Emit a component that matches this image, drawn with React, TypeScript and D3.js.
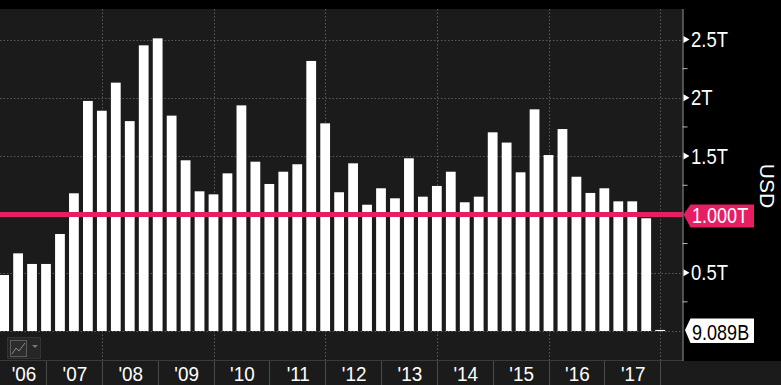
import React from "react";
import * as d3 from "d3";

const years = [2006, 2007, 2008, 2009, 2010, 2011, 2012, 2013, 2014, 2015, 2016, 2017];
const yearLabels = ["'06", "'07", "'08", "'09", "'10", "'11", "'12", "'13", "'14", "'15", "'16", "'17"];
// quarterly values in trillions USD, Q1 2006 .. Q4 2017
const values = [
  0.48, 0.666, 0.575, 0.575,
  0.832, 1.181, 1.973, 1.889,
  2.13, 1.8, 2.45, 2.51,
  1.847, 1.464, 1.198, 1.172,
  1.352, 1.935, 1.452, 1.261,
  1.366, 1.43, 2.316, 1.781,
  1.19, 1.438, 1.083, 1.224,
  1.138, 1.481, 1.152, 1.244,
  1.366, 1.104, 1.152, 1.704,
  1.616, 1.361, 1.901, 1.509,
  1.732, 1.323, 1.184, 1.224,
  1.112, 1.112, 0.967, 0.009089,
];
const majorTicks = [0.5, 1.5, 2, 2.5];
const majorTickLabels = ["0.5T", "1.5T", "2T", "2.5T"];
const gridValues = [0, 0.5, 1, 1.5, 2, 2.5];
const minorTicks = [0.25, 0.75, 1.25, 1.75, 2.25];
const gridYears = [2008, 2010, 2012, 2014, 2016, 2018];
const refValue = 1.0;
const refLabel = "1.000T";
const lastLabel = "9.089B";
const axisTitle = "USD";

const W = 781;
const H = 385;
const plotTop = 9;
const plotBottom = 360;
const plotRight = 682.5;
const FONT = "'Liberation Sans', Arial, sans-serif";
const PINK = "#e61e64";

function NText(props: {
  x: number;
  y: number;
  size: number;
  fill: string;
  anchor?: string;
  sx?: number;
  children: React.ReactNode;
}) {
  return (
    <text
      transform={`translate(${props.x},${props.y}) scale(${props.sx ?? 0.82},1)`}
      fill={props.fill}
      fontFamily={FONT}
      fontSize={props.size}
      textAnchor={props.anchor || "start"}
    >
      {props.children}
    </text>
  );
}

export default function App() {
  const x = d3.scaleLinear().domain([2006.176, 2018.4]).range([0, plotRight]);
  const y = d3.scaleLinear().domain([0, 2.5]).range([331, 39.5]);
  const qPx = x(2006.5) - x(2006.25);
  const bw = qPx * 0.7;

  const bars = values.map((v, i) => ({ t: years[0] + (i + 1) * 0.25, v }));
  const lastV = values[values.length - 1];
  const yr = y(refValue);
  const y0 = y(0);

  return (
    <svg width={W} height={H} style={{ display: "block", position: "absolute", left: 0, top: 0 }}>
      <rect x={0} y={0} width={W} height={H} fill="#000" />
      {/* plot background */}
      <rect x={0} y={plotTop} width={plotRight} height={plotBottom - plotTop} fill="#1b1b1b" />
      {/* x band */}
      <rect x={0} y={plotBottom + 1} width={W} height={H - plotBottom - 1} fill="#1b1b1b" />
      <line x1={0} x2={plotRight} y1={plotBottom + 0.5} y2={plotBottom + 0.5} stroke="#3a3a3a" />

      {/* gridlines */}
      {gridValues.map((g) => (
        <line key={"h" + g} x1={0} x2={plotRight} y1={Math.round(y(g)) + 0.5} y2={Math.round(y(g)) + 0.5}
          stroke="#5a5a5a" strokeDasharray="1.5,2" />
      ))}
      {gridYears.map((g) => (
        <line key={"v" + g} x1={Math.round(x(g)) + 0.5} x2={Math.round(x(g)) + 0.5} y1={plotTop} y2={plotBottom}
          stroke="#5a5a5a" strokeDasharray="1.5,2" />
      ))}

      {/* bars */}
      {bars.map((b, i) => {
        const h = Math.max(1, y0 - y(b.v));
        return <rect key={i} x={x(b.t) - bw / 2} y={y0 - h} width={bw} height={h} fill="#fff" />;
      })}

      {/* reference line */}
      <line x1={0} x2={plotRight} y1={yr} y2={yr} stroke={PINK} strokeWidth={5} />

      {/* right axis */}
      <line x1={plotRight + 0.5} x2={plotRight + 0.5} y1={plotTop} y2={plotBottom + 1} stroke="#9a9a9a" />
      {minorTicks.map((m) => (
        <line key={"m" + m} x1={plotRight} x2={plotRight + 5} y1={y(m)} y2={y(m)} stroke="#bbb" />
      ))}
      {majorTicks.map((m, i) => (
        <g key={"t" + m}>
          <path d={`M${plotRight + 1},${y(m) - 3.5} L${plotRight + 7},${y(m)} L${plotRight + 1},${y(m) + 3.5} Z`} fill="#fff" />
          <NText x={plotRight + 8.5} y={y(m) + 7.5} size={22} sx={0.84} fill="#fff">{majorTickLabels[i]}</NText>
        </g>
      ))}

      {/* ref label */}
      <path d={`M${plotRight + 1},${yr} L${plotRight + 8},${yr - 10} L754,${yr - 10} L754,${yr + 13} L${plotRight + 8},${yr + 13} Z`} fill={PINK} />
      <NText x={692} y={yr + 9} size={22} fill="#fff">{refLabel}</NText>

      {/* last value label */}
      <path d={`M${plotRight + 2.5},${y(lastV)} L${plotRight + 8},${y0 - 12.5} L754,${y0 - 12.5} L754,${y0 + 12} L${plotRight + 8},${y0 + 12} Z`} fill="#fff" />
      <NText x={692} y={y0 + 8.5} size={22} fill="#000">{lastLabel}</NText>

      {/* USD label */}
      <text transform={`translate(760,186) rotate(90)`} textAnchor="middle" fill="#fff" fontFamily={FONT} fontSize={21}>{axisTitle}</text>

      {/* year separators and labels */}
      {years.map((yy, i) => {
        const x0 = Math.max(0, x(yy));
        const x1 = x(yy + 1);
        return (
          <g key={"y" + yy}>
            {x(yy) > 0 && <line x1={Math.round(x(yy)) + 0.5} x2={Math.round(x(yy)) + 0.5} y1={plotBottom + 1} y2={H} stroke="#4a4a4a" />}
            <NText x={(x0 + x1) / 2 + 1} y={380.5} size={21} sx={0.9} anchor="middle" fill="#fff">{yearLabels[i]}</NText>
          </g>
        );
      })}
      <line x1={Math.round(x(2018)) + 0.5} x2={Math.round(x(2018)) + 0.5} y1={plotBottom + 1} y2={H} stroke="#4a4a4a" />

      {/* legend icon */}
      <g>
        <rect x={7.5} y={337.5} width={33} height={21} fill="#262626" stroke="#333" />
        <rect x={10.5} y={340.5} width={16} height={16} fill="#2c2c2c" stroke="#5c5c5c" />
        <path d="M12,354 L16,348 L19,351 L25,343" fill="none" stroke="#8a8a8a" strokeWidth={1} />
        <path d="M32,345 L38,345 L35,348 Z" fill="#777" />
      </g>
    </svg>
  );
}
